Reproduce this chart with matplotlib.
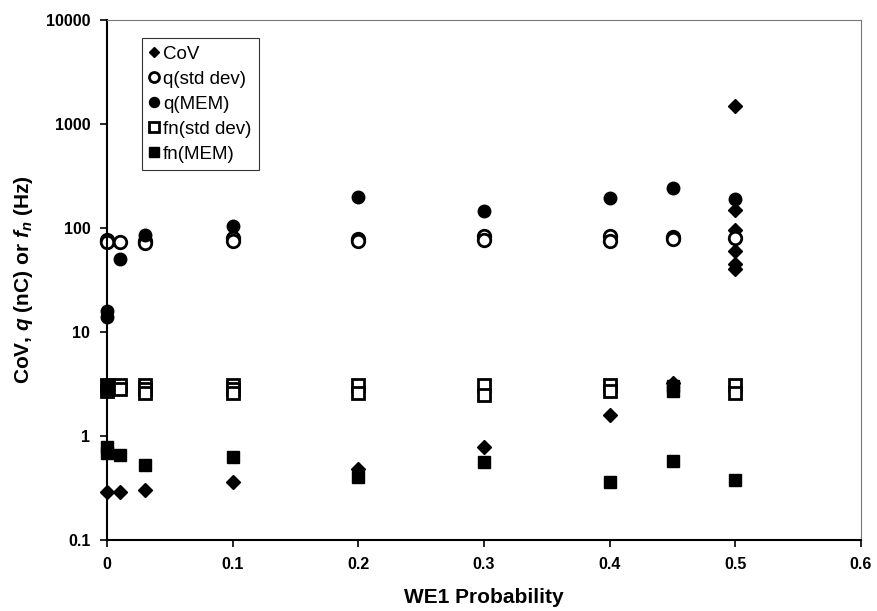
import numpy as np
import matplotlib
matplotlib.use("Agg")
import matplotlib.pyplot as plt
from matplotlib.ticker import FixedLocator, FixedFormatter

plt.rcParams['font.family'] = ['Liberation Sans', 'DejaVu Sans']
plt.rcParams['mathtext.fontset'] = 'custom'
plt.rcParams['mathtext.rm'] = 'Liberation Sans:bold'
plt.rcParams['mathtext.it'] = 'Liberation Sans:italic:bold'
plt.rcParams['mathtext.bf'] = 'Liberation Sans:bold'
plt.rcParams['mathtext.bfit'] = 'Liberation Sans:italic:bold'

# CoV
cov_x = [0, 0.01, 0.03, 0.1, 0.2, 0.3, 0.4, 0.45, 0.5, 0.5, 0.5, 0.5, 0.5, 0.5]
cov_y = [0.29, 0.29, 0.30, 0.36, 0.48, 0.78, 1.6, 3.2, 1500, 150, 95, 60, 45, 40]

# q(std dev)
qsd_x = [0, 0, 0.01, 0.03, 0.03, 0.1, 0.1, 0.2, 0.2, 0.3, 0.3, 0.4, 0.4, 0.45, 0.45, 0.5]
qsd_y = [76, 73, 74, 75, 72, 80, 75, 78, 75, 83, 76, 83, 75, 82, 79, 80]

# q(MEM)
qmem_x = [0, 0, 0.01, 0.03, 0.1, 0.2, 0.3, 0.4, 0.45, 0.5]
qmem_y = [16, 14, 50, 85, 105, 200, 145, 195, 240, 190]

# fn(std dev)
fsd_x = [0, 0, 0.01, 0.01, 0.03, 0.03, 0.03, 0.1, 0.1, 0.1, 0.2, 0.2, 0.3, 0.3,
         0.4, 0.4, 0.5, 0.5]
fsd_y = [3.1, 2.7, 3.1, 2.8, 3.1, 2.8, 2.6, 3.1, 2.8, 2.6, 3.1, 2.6, 3.1, 2.5,
         3.1, 2.7, 3.1, 2.6]

# fn(MEM)
fmem_x = [0, 0, 0, 0, 0.01, 0.03, 0.1, 0.2, 0.3, 0.4, 0.45, 0.45, 0.45, 0.5]
fmem_y = [3.1, 2.8, 0.78, 0.68, 0.65, 0.53, 0.63, 0.40, 0.56, 0.36, 3.0, 2.7, 0.57, 0.38]

xticks = [0, 0.1, 0.2, 0.3, 0.4, 0.5, 0.6]
xticklabels = ['0', '0.1', '0.2', '0.3', '0.4', '0.5', '0.6']
yticks = [0.1, 1, 10, 100, 1000, 10000]
yticklabels = ['0.1', '1', '10', '100', '1000', '10000']

fig = plt.figure(figsize=(8.77, 6.11), dpi=100)
ax = fig.add_axes([107/877, 1-540/611, 754/877, 520/611])

ax.plot(cov_x, cov_y, 'D', color='black', ms=7, ls='none', label='CoV', clip_on=False)
ax.plot(qsd_x, qsd_y, 'o', mfc='white', mec='black', mew=2, ms=9, ls='none',
        label='q(std dev)', clip_on=False)
ax.plot(qmem_x, qmem_y, 'o', color='black', ms=9, ls='none', label='q(MEM)', clip_on=False)
ax.plot(fsd_x, fsd_y, 's', mfc='white', mec='black', mew=2, ms=8.5, ls='none',
        label='fn(std dev)', clip_on=False)
ax.plot(fmem_x, fmem_y, 's', color='black', ms=8.5, ls='none', label='fn(MEM)', clip_on=False)

ax.set_yscale('log')
ax.set_xlim(0, 0.6)
ax.set_ylim(0.1, 10000)
ax.xaxis.set_major_locator(FixedLocator(xticks))
ax.xaxis.set_major_formatter(FixedFormatter(xticklabels))
ax.yaxis.set_major_locator(FixedLocator(yticks))
ax.yaxis.set_major_formatter(FixedFormatter(yticklabels))
ax.yaxis.set_minor_locator(FixedLocator([]))

for s in ['left', 'bottom']:
    ax.spines[s].set_color('black')
    ax.spines[s].set_linewidth(1.5)
for s in ['top', 'right']:
    ax.spines[s].set_color('#777777')
    ax.spines[s].set_linewidth(0.8)

ax.tick_params(axis='both', which='major', direction='out', length=5, width=1.2,
               labelsize=11.5, pad=7)
for lab in ax.get_xticklabels() + ax.get_yticklabels():
    lab.set_fontweight('bold')

ax.set_xlabel('WE1 Probability', fontsize=15, fontweight='bold', labelpad=12)
ax.set_ylabel(r'CoV, $\mathbfit{q}$ (nC) or $\mathbfit{f_n}$ (Hz)', fontsize=15,
              fontweight='bold', labelpad=8)

leg = ax.legend(loc='upper left', bbox_to_anchor=(0.046, 0.965), frameon=True,
                fancybox=False, edgecolor='black', fontsize=13.5, handlelength=0.5,
                handletextpad=0.25, borderpad=0.4, labelspacing=0.42,
                borderaxespad=0, markerscale=0.8)
leg.get_frame().set_linewidth(0.8)

fig.savefig('out.png', dpi=100)
